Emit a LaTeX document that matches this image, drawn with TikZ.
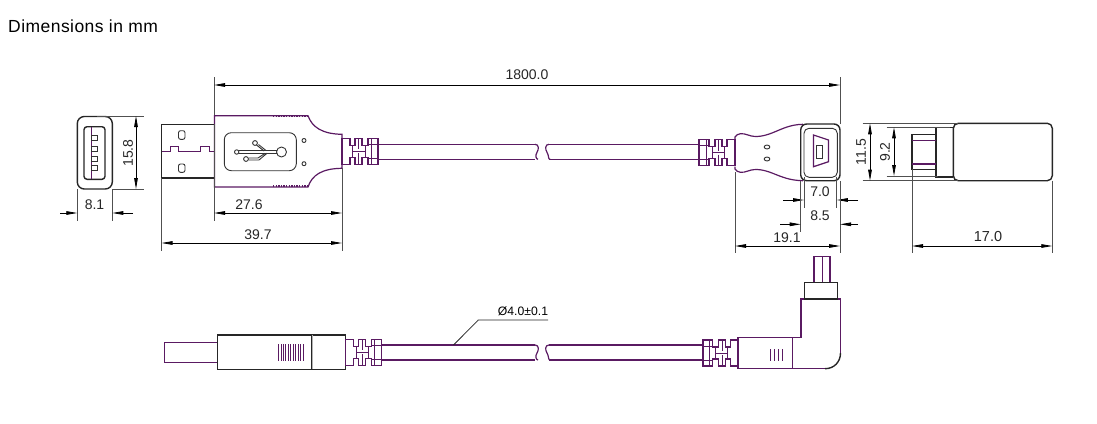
\documentclass[tikz,border=0pt]{standalone}
\usepackage{fontspec}
\setmainfont{Liberation Sans}
\usetikzlibrary{arrows.meta}
\definecolor{plum}{HTML}{5A1A62}
\definecolor{extc}{HTML}{505050}
\newcommand{\reliefshape}{%
  \draw[pl] (0,0)-|(8,7)-|(13,0)-|(20,7)-|(26,0)-|(36,26)-|(26,19)-|(20,26)-|(13,19)-|(8,26)-|(0,0)--cycle;
  \draw[pl,line width=.8pt] (26,6)--(36,6) (26,20)--(36,20)
     (16.5,0)--(16.5,11) (16.5,15)--(16.5,26) (10.5,7)--(10.5,19) (23,7)--(23,19) (10.5,13)--(23,13) (29,0)--(29,26);
}
\newcommand{\breakL}[2]{\draw[pl] (#1-2,#2) .. controls (#1+2,#2) and (#1+2,#2+5) .. (#1,#2+8) .. controls (#1-2,#2+11) and (#1-1,#2+15) .. (#1+1,#2+15);}
\newcommand{\breakR}[2]{\draw[pl] (#1+2,#2) .. controls (#1-2,#2) and (#1-2,#2+5) .. (#1,#2+8) .. controls (#1+2,#2+11) and (#1+1,#2+15) .. (#1+3,#2+15);}
\tikzset{
  pl/.style={draw=plum,line width=1.2pt,line join=miter},
  bk/.style={draw=black!85,line width=1.4pt},
  thin1/.style={draw=black!80,line width=.9pt},
  ext/.style={draw=extc,line width=.8pt},
  dimA/.style={draw=black,line width=.8pt,{Triangle[length=11pt,width=3.6pt]}-{Triangle[length=11pt,width=3.6pt]}},
  dimO/.style={draw=black,line width=.8pt,-{Triangle[length=11pt,width=3.6pt]}},
  lab/.style={font=\fontsize{14}{14}\selectfont,text=black!85,inner sep=0pt},
  labr/.style={lab,rotate=90},
}
\begin{document}
\begin{tikzpicture}[x=1pt,y=-1pt]
\useasboundingbox (0,0) rectangle (1097,423);
\node[anchor=west,inner sep=0pt,font=\fontsize{17.5}{18}\selectfont\addfontfeature{LetterSpace=2.6}] (title) at (8,26.5) {Dimensions in mm};

% --- end view of USB A
\draw[bk,rounded corners=7pt] (77.3,116.5) rectangle (112.3,189);
\draw[bk,rounded corners=3pt] (84,126.7) rectangle (105,179.3);
\draw[pl] (91.7,127)--(91.7,179);
\foreach \a/\b in {135.7/140.5,146/151,156.7/161,165/170}
  \draw[thin1] (91.7,\a) rectangle (97.5,\b);
\draw[ext] (97,116)--(144,116) (112,189)--(144,189);
\draw[dimA] (136,116)--(136,189);
\node[labr] (d158) at (128,153) {15.8};
\draw[ext] (77.3,189)--(77.3,221) (112.3,189)--(112.3,221);
\draw[dimO] (60,213)--(77.3,213);
\draw[dimO] (133,213)--(112.3,213);
\node[lab] (d81) at (94.5,205) {8.1};

% --- USB A plug, top view
\draw[bk] (214,124.7)-|(161.5,178)--(214,178);
\draw[thin1,rounded corners=2pt] (178.5,130.7) rectangle (185,139.3);
\draw[thin1,rounded corners=2pt] (178.5,164) rectangle (185,172.3);
\draw[pl,line width=.9pt] (161.5,151.7)--(170,151.7)--(170,146.7)--(178,146.7)--(178,151.7)--(200,151.7)--(200,146.7)--(209,146.7)--(209,151.7)--(214,151.7);
\draw[pl] (308,115.7)--(214.5,115.7)--(214.5,187)--(308,187)
  .. controls (312,175) and (322,168.5) .. (342,168.3)--(342,134.3)
  .. controls (322,134) and (312,127) .. (308,115.7);
\draw[plum,line width=1.6pt,dash pattern=on 1.3pt off 1.3pt] (273,116.6)--(308,116.6) (273,186.1)--(308,186.1);
\draw[thin1,rounded corners=7pt] (224.3,132.7) rectangle (296.3,170.7);
\draw[thin1] (281.5,152) circle (5);
\draw[thin1,line width=.6pt] (276.5,150.6)--(239,150.6) (276.5,153.2)--(239,153.2);
\draw[thin1] (236.7,152) circle (2.2);
\draw[thin1] (255,143) circle (2.4);
\draw[thin1] (246,159) circle (2.4);
\draw[thin1] (256.5,145)--(264,151) (258.5,144.5)--(266,150.5);
\draw[thin1] (248.5,158)--(258,158)--(265,153.3) (248.5,160)--(259,160)--(267,153.3);
\draw[thin1] (304,140.5) circle (2);
\draw[thin1] (304,163.7) circle (2);

% --- cable, top view
\begin{scope}[shift={(342,138.3)}]\reliefshape\end{scope}
\draw[pl] (378,144.3)--(535,144.3) (378,159.3)--(535,159.3);
\breakL{537}{144.3}
\breakR{547}{144.3}
\draw[pl] (549,144.3)--(700,144.3) (549,159.3)--(700,159.3);
\begin{scope}[shift={(735,139.5)},xscale=-1,yscale=1]\reliefshape\end{scope}

% --- mini-USB body, top view
\draw[pl] (735,139.5)--(735,137) .. controls (737,133) and (743,133) .. (748,135) .. controls (756,138) and (764,136) .. (772,133) .. controls (782,129) and (790,124.5) .. (803,124.3);
\draw[pl] (735,166.5)--(735,169) .. controls (737,173) and (743,173) .. (748,171) .. controls (756,168) and (764,170) .. (772,173) .. controls (782,177) and (790,180.5) .. (803,180.7);
\draw[thin1] (767,147) ellipse (2.8 and 2);
\draw[thin1] (767,159) ellipse (2.8 and 2);
\draw[bk,fill=white,rounded corners=6pt] (800.7,124) rectangle (840,180.7);
\draw[thin1,rounded corners=5pt] (804,128.3) rectangle (837.3,177.3);
\draw[pl] (813.5,135)--(828.5,140)--(828.5,161.7)--(813.5,166.7)--cycle;
\draw[thin1] (816.7,145) rectangle (822.3,158.3);
\draw[thin1,line width=1.2pt] (816.7,145)--(816.7,158.3);

% --- overall dimensions
\draw[ext] (214,115)--(214,77) (214,124)--(214,221);
\draw[ext] (840,124)--(840,77);
\draw[dimA] (214,85)--(840,85);
\node[lab] (d1800) at (527,75) {1800.0};
\draw[ext] (342,168)--(342,251);
\draw[ext] (161.5,178)--(161.5,251);
\draw[dimA] (214,213)--(342,213);
\node[lab] (d276) at (249,205) {27.6};
\draw[dimA] (161.5,243)--(342,243);
\node[lab] (d397) at (258,235) {39.7};

\draw[ext] (804,177)--(804,208) (836.8,177)--(836.8,208);
\draw[dimO] (783,200)--(804,200);
\draw[dimO] (858,200)--(836.8,200);
\node[lab] (d70) at (820,192) {7.0};
\draw[ext] (800.7,181)--(800.7,232) (840,181)--(840,253);
\draw[dimO] (780,224.3)--(800.7,224.3);
\draw[dimO] (858,224.3)--(840,224.3);
\node[lab] (d85) at (820,216) {8.5};
\draw[ext] (735,172)--(735,253);
\draw[dimA] (735,246)--(840,246);
\node[lab] (d191) at (787,238) {19.1};

% --- side view of mini-USB end
\draw[bk,rounded corners=5pt] (953.3,123.3) rectangle (1052.3,180.7);
\draw[bk] (953.3,127.7)-|(936,177)--(953.3,177);
\draw[bk] (936,134.3)-|(912,169.3)--(936,169.3);
\draw[pl] (912,140.7)--(936,140.7) (912,164)--(936,164);
\draw[ext] (862.7,123.3)--(958,123.3) (862.7,180.7)--(958,180.7);
\draw[ext] (886.5,127.3)--(950,127.3) (886.5,176)--(938,176);
\draw[dimA] (870,123.3)--(870,180.7);
\draw[dimA] (894,127.3)--(894,176);
\node[labr] (d115) at (861,152) {11.5};
\node[labr] (d92) at (885,152) {9.2};
\draw[ext] (912,169)--(912,253) (1052.3,180.7)--(1052.3,253);
\draw[dimA] (912,246)--(1052.3,246);
\node[lab,font=\fontsize{14.5}{15}\selectfont] (d170) at (988,237) {17.0};

% --- lower view, USB A side
\draw[pl] (217.5,342.7)--(164.7,342.7)--(164.7,362.3)--(217.5,362.3);
\draw[bk] (217.7,335) rectangle (345.7,369.3);
\draw[black!30,line width=1.2pt] (312.8,335)--(312.8,369.3);
\draw[bk] (311.7,335)--(311.7,369.3);
\foreach \i in {0,...,10}
  \draw[plum,line width=1pt] ({278.6+\i*2.45},344.3)--({278.6+\i*2.45},361);
\begin{scope}[shift={(345.7,339.3)}]\reliefshape\end{scope}
\draw[pl] (381.7,345)--(535,345) (381.7,360)--(535,360);
\breakL{537}{345}
\breakR{547}{345}
\draw[pl] (549,345)--(703,345) (549,360)--(703,360);
\begin{scope}[shift={(738,340)},xscale=-.97]\reliefshape\end{scope}

% --- leader
\coordinate (leadEnd) at (453.5,345);
\draw[draw=black!85,line width=.8pt] (leadEnd)--(478.3,320)--(548,320);
\node[lab,font=\fontsize{12.2}{12}\selectfont,text=black] (dia) at (523,311) {Ø4.0±0.1};

% --- lower view, angled end
\draw[pl] (825,368.7)--(738,368.7)--(738,337.7)--(801,337.7)--(801,299)--(840.5,299)--(840.5,353);
\draw[pl,line width=.9pt] (792.7,337.7)--(792.7,368.7);
\draw[bk] (840.5,353) .. controls (840.5,362) and (834,368.7) .. (825,368.7);
\draw[bk] (804.7,282.3) rectangle (837.3,299);
\draw[pl] (814,282.3)|-(830,256.7)--(830,282.3);
\draw[pl,line width=.9pt] (822,256.7)--(822,282.3);
\foreach \i in {0,...,3}
  \draw[plum,line width=1pt] ({770.3+\i*4},349)--({770.3+\i*4},360.7);
\end{tikzpicture}
\end{document}
